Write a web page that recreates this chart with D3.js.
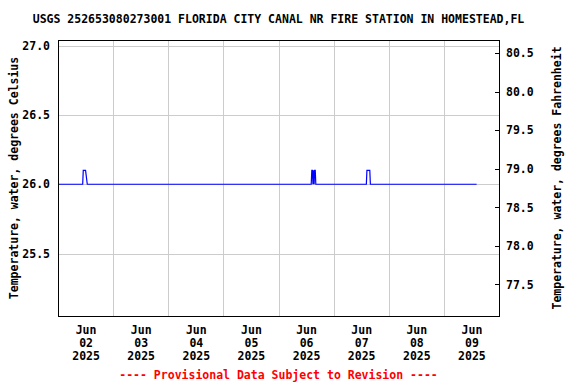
<!DOCTYPE html>
<html>
<head>
<meta charset="utf-8">
<script src="https://cdn.jsdelivr.net/npm/d3@7"></script>
<style>
  body { margin: 0; background: #fff; }
  text { font-family: "DejaVu Sans Mono", monospace; font-weight: bold; }
</style>
</head>
<body>
<svg id="chart" width="576" height="384"></svg>
<script>
// chart text
const title = "USGS 252653080273001 FLORIDA CITY CANAL NR FIRE STATION IN HOMESTEAD,FL";
const leftLabel = "Temperature, water, degrees Celsius";
const rightLabel = "Temperature, water, degrees Fahrenheit";
const footNote = "---- Provisional Data Subject to Revision ----";

// tick values
const celsiusTicks = [25.5, 26.0, 26.5, 27.0];
const fahrenheitTicks = [77.5, 78.0, 78.5, 79.0, 79.5, 80.0, 80.5];
const dayLabels = ["02", "03", "04", "05", "06", "07", "08", "09"];

// the series: time (UTC) and water temperature in degrees C
const times = [
  "2025-06-02T00:00Z", "2025-06-02T10:45Z", "2025-06-02T11:00Z", "2025-06-02T12:00Z", "2025-06-02T12:45Z",
  "2025-06-06T14:15Z", "2025-06-06T14:30Z", "2025-06-06T14:45Z", "2025-06-06T15:00Z", "2025-06-06T15:15Z",
  "2025-06-06T15:30Z", "2025-06-06T15:45Z", "2025-06-06T16:00Z", "2025-06-06T16:15Z",
  "2025-06-07T14:15Z", "2025-06-07T14:30Z", "2025-06-07T15:45Z", "2025-06-07T16:00Z",
  "2025-06-09T14:15Z"
];
const tempC = [
  26.0, 26.0, 26.1, 26.1, 26.0,
  26.0, 26.1, 26.1, 26.0, 26.1,
  26.0, 26.1, 26.1, 26.0,
  26.0, 26.1, 26.1, 26.0,
  26.0
];

// layout
const margin = { top: 40, right: 77, bottom: 68, left: 58 };
const W = 576, H = 384;
const width = W - margin.left - margin.right,
  height = H - margin.top - margin.bottom;
const FONT = "11.5px";

const svg = d3.select("#chart");
const g = svg.append("g").attr("transform", "translate(" + margin.left + "," + margin.top + ")");

const x = d3.scaleUtc()
  .domain([new Date("2025-06-02T00:00Z"), new Date("2025-06-10T00:00Z")])
  .range([0, width]);
const yC = d3.scaleLinear().domain([25.05, 27.04]).range([height, 0]);
const yF = d3.scaleLinear().domain([25.05 * 1.8 + 32, 27.04 * 1.8 + 32]).range([height, 0]);

// vertical gridlines at midnight
const midnights = dayLabels.slice(1).map((d) => new Date("2025-06-" + d + "T00:00Z"));
g.append("g")
  .attr("class", "xgrid")
  .attr("transform", "translate(0," + height + ")")
  .call(d3.axisBottom(x).tickValues(midnights).tickSize(-height).tickFormat(""))
  .call((s) => s.select(".domain").remove())
  .call((s) => s.selectAll("line").attr("stroke", "#cccccc").attr("shape-rendering", "crispEdges"));

// horizontal gridlines + left labels
g.append("g")
  .attr("class", "ygrid")
  .call(d3.axisLeft(yC).tickValues(celsiusTicks).tickSize(-width).tickPadding(8).tickFormat(d3.format(".1f")))
  .call((s) => s.select(".domain").remove())
  .call((s) => s.selectAll("line").attr("stroke", "#cccccc").attr("shape-rendering", "crispEdges"))
  .call((s) => s.selectAll("text").style("font-size", FONT).attr("fill", "#000"));

// right axis, ticks point inward
g.append("g")
  .attr("transform", "translate(" + width + ",0)")
  .call(d3.axisRight(yF).tickValues(fahrenheitTicks).tickSize(-4).tickPadding(7).tickFormat(d3.format(".1f")))
  .call((s) => s.select(".domain").remove())
  .call((s) => s.selectAll("line").attr("stroke", "#000").attr("shape-rendering", "crispEdges"))
  .call((s) => s.selectAll("text").style("font-size", FONT).attr("fill", "#000"));

// bottom labels at noon, three lines each
const noons = dayLabels.map((d) => new Date("2025-06-" + d + "T12:00Z"));
const xAxis = g.append("g")
  .attr("transform", "translate(0," + height + ")")
  .call(d3.axisBottom(x).tickValues(noons).tickSize(0).tickPadding(0).tickFormat(""))
  .call((s) => s.select(".domain").remove());
xAxis.selectAll(".tick text")
  .style("font-size", FONT)
  .attr("fill", "#000")
  .attr("dy", null)
  .attr("y", 0)
  .each(function (d, i) {
    const t = d3.select(this);
    ["Jun", dayLabels[i], "2025"].forEach((line, k) => {
      t.append("tspan").attr("x", 0).attr("y", 18 + k * 13).text(line);
    });
  });

// data line
const pts = times.map((t, i) => ({ t: new Date(t), v: tempC[i] }));
g.append("path")
  .datum(pts)
  .attr("fill", "none")
  .attr("stroke", "#0000ff")
  .attr("stroke-width", 1.2)
  .attr("d", d3.line().x((d) => x(d.t)).y((d) => yC(d.v)));

// frame
g.append("rect")
  .attr("x", 0.5).attr("y", 0.5)
  .attr("width", width).attr("height", height)
  .attr("fill", "none").attr("stroke", "#000")
  .attr("shape-rendering", "crispEdges");

// title
svg.append("text")
  .attr("x", margin.left + width / 2).attr("y", 23)
  .attr("text-anchor", "middle")
  .style("font-size", FONT)
  .text(title);

// axis titles
svg.append("text")
  .attr("transform", "translate(18," + (margin.top + height / 2) + ") rotate(-90)")
  .attr("text-anchor", "middle")
  .style("font-size", FONT)
  .text(leftLabel);
svg.append("text")
  .attr("transform", "translate(561," + (margin.top + height / 2) + ") rotate(-90)")
  .attr("text-anchor", "middle")
  .style("font-size", FONT)
  .text(rightLabel);

// provisional note
svg.append("text")
  .attr("x", margin.left + width / 2).attr("y", 379)
  .attr("text-anchor", "middle")
  .style("font-size", FONT)
  .attr("fill", "#ff0000")
  .text(footNote);
</script>
</body>
</html>
